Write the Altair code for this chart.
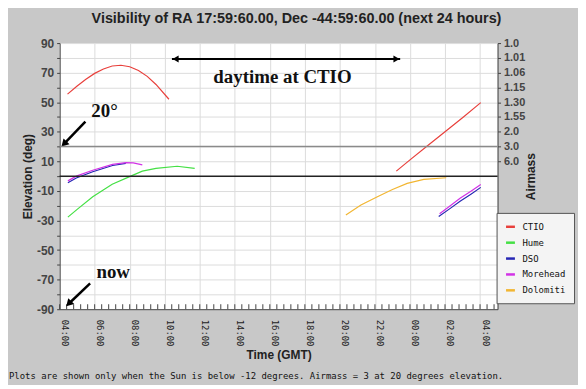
import altair as alt
import pandas as pd

# ---------------- text ----------------
title_text = "Visibility of RA 17:59:60.00, Dec -44:59:60.00 (next 24 hours)"
footer_note = ["Plots are shown only when the Sun is below -12 degrees. Airmass = 3 at 20 degrees elevation."]

# ---------------- categories ----------------
sites = ["CTIO", "Hume", "DSO", "Morehead", "Dolomiti"]
site_colors = ["#e8403c", "#44e044", "#2626b4", "#d232e6", "#f2b632"]

# ---------------- series (time in hours from 00:00 GMT, elevation in deg) ----------------
ctio_t1 = [4.45, 5.0, 5.5, 6.0, 6.5, 7.0, 7.5, 8.0, 8.5, 9.0, 9.5, 10.24]
ctio_e1 = [55.5, 61.0, 65.5, 69.5, 72.5, 74.5, 75.0, 74.0, 71.5, 67.5, 62.0, 52.0]
ctio_t2 = [23.22, 24.0, 25.0, 26.0, 27.0, 28.04]
ctio_e2 = [3.4, 11.0, 20.5, 30.0, 39.5, 49.7]

hume_t1 = [4.47, 5.0, 5.89, 7.0, 8.06, 8.72, 9.5, 10.71, 11.71]
hume_e1 = [-27.7, -22.5, -13.9, -5.5, 0.0, 3.4, 5.3, 6.7, 5.2]

dso_t1 = [4.47, 4.95, 5.89, 7.02, 7.78]
dso_e1 = [-4.4, -1.2, 3.0, 7.2, 8.6]
dso_t2 = [25.64, 26.3, 26.86, 27.5, 28.04]
dso_e2 = [-27.3, -21.8, -17.0, -12.0, -7.6]

morehead_t1 = [4.47, 4.95, 5.89, 7.02, 7.78, 8.2, 8.72]
morehead_e1 = [-3.2, 0.0, 4.0, 8.0, 9.2, 9.0, 7.6]
morehead_t2 = [25.69, 26.3, 26.86, 27.5, 28.04]
morehead_e2 = [-25.5, -20.0, -15.0, -10.0, -5.6]

dolomiti_t1 = [20.34, 21.2, 22.14, 23.0, 23.84, 24.79, 26.07]
dolomiti_e1 = [-26.2, -19.5, -13.9, -9.0, -4.9, -2.2, -1.1]

# ---------------- axes ----------------
time_ticks = list(range(4, 29, 2))
minor_ticks = [round(4 + 0.4 * i, 2) for i in range(63)]
elev_ticks = list(range(-90, 91, 10))
airmass_elev = [90, 80, 70, 60, 50, 40, 30, 20, 10]
airmass_labels = ["1.0", "1.01", "1.06", "1.15", "1.30", "1.55", "2.0", "3.0", "6.0"]

# ---------------- annotations ----------------
ann_text = ["daytime at CTIO", "20°", "now"]
ann_t = [16.72, 5.81, 6.10]
ann_e = [63.3, 40.3, -69.2]
ann_align = ["center", "left", "left"]

day_arrow = {"t": [10.41], "t2": [23.44], "e": [79.2]}
diag_arrows = {"t": [5.47, 5.74], "e": [36.9, -72.5], "t2": [4.25, 4.52], "e2": [21.8, -86.3]}
diag_heads = {"t": [4.25, 4.52], "e": [21.8, -86.3]}
day_head_left = {"t": [10.62], "e": [79.2]}
day_head_right = {"t": [23.23], "e": [79.2]}

# ---------------- build tables ----------------
segments = [
    ("CTIO", "c1", ctio_t1, ctio_e1), ("CTIO", "c2", ctio_t2, ctio_e2),
    ("Hume", "h1", hume_t1, hume_e1),
    ("DSO", "d1", dso_t1, dso_e1), ("DSO", "d2", dso_t2, dso_e2),
    ("Morehead", "m1", morehead_t1, morehead_e1), ("Morehead", "m2", morehead_t2, morehead_e2),
    ("Dolomiti", "o1", dolomiti_t1, dolomiti_e1),
]
rows = []
for site, seg, ts, es in segments:
    for t, e in zip(ts, es):
        rows.append({"site": site, "seg": seg, "t": t, "e": e})
df = pd.DataFrame(rows)

xscale = alt.Scale(domain=[4, 29], nice=False, zero=False)
yscale = alt.Scale(domain=[-90, 90], nice=False, zero=False)

SANS = "Liberation Sans"
MONO = "DejaVu Sans Mono"
SERIF = "Liberation Serif"

x_axis = alt.Axis(
    values=time_ticks, tickCount=100,
    labelExpr="(datum.value % 24 < 10 ? '0' : '') + (datum.value % 24) + ':00'",
    labelAngle=90, labelAlign="left", labelBaseline="middle", labelOffset=5,
    labelFont=MONO, labelFontSize=9, labelColor="#222", labelPadding=10,
    labelOverlap=False, labelFlush=False,
    ticks=False, grid=True, gridColor="#dcdcdc", domainColor="#444",
    title="Time (GMT)", titleFont=SANS, titleFontSize=12, titleFontWeight="bold",
    titleColor="#222", titlePadding=4,
)
y_axis_left = alt.Axis(
    values=elev_ticks, tickCount=100,
    labelExpr="abs(datum.value) % 20 == 10 ? datum.value : ''",
    labelFont=SANS, labelFontSize=12, labelFontWeight="bold", labelColor="#444",
    labelOverlap=False, labelFlush=False,
    tickSize=3, tickColor="#444", labelPadding=3,
    grid=True, gridColor="#dcdcdc", domainColor="#444",
    title="Elevation (deg)", titleFont=SANS, titleFontSize=12, titleFontWeight="bold",
    titleColor="#222", titlePadding=2,
)
am_expr = "".join(f"datum.value == {v} ? '{l}' : " for v, l in zip(airmass_elev, airmass_labels)) + "''"
y_axis_right = alt.Axis(
    orient="right", values=airmass_elev, tickCount=100, labelExpr=am_expr,
    labelFont=SANS, labelFontSize=11, labelFontWeight="bold", labelColor="#444",
    labelOverlap=False, labelFlush=False,
    tickSize=3, tickColor="#444", labelPadding=3, grid=False, domainColor="#444",
    title="Airmass", titleFont=SANS, titleFontSize=12, titleFontWeight="bold",
    titleColor="#222", titlePadding=13, titleAngle=270,
)

legend = alt.Legend(
    orient="none", legendX=440, legendY=171, title=None,
    padding=8, strokeColor="#555", fillColor="#f4f4f4",
    symbolType="stroke", symbolStrokeWidth=2.5, symbolSize=80,
    labelFont=MONO, labelFontSize=9, labelColor="#111", rowPadding=5, labelOffset=6,
)

lines = alt.Chart(df).mark_line(strokeWidth=1.2, clip=True).encode(
    x=alt.X("t:Q", scale=xscale, axis=x_axis),
    y=alt.Y("e:Q", scale=yscale, axis=y_axis_left),
    color=alt.Color("site:N", scale=alt.Scale(domain=sites, range=site_colors), legend=legend, sort=sites),
    detail="seg:N",
)

horizon = alt.Chart(pd.DataFrame({"e": [0]})).mark_rule(color="#222", strokeWidth=1.5).encode(
    y=alt.Y("e:Q", scale=yscale)
)

minor = alt.Chart(pd.DataFrame({"t": minor_ticks})).mark_rule(color="#444", strokeWidth=1).encode(
    x=alt.X("t:Q", scale=xscale), y=alt.value(263), y2=alt.value(268)
)

ann_df = pd.DataFrame({"txt": ann_text, "t": ann_t, "e": ann_e, "al": ann_align})
ann_center = alt.Chart(ann_df[ann_df.al == "center"]).mark_text(
    font=SERIF, fontSize=19, fontWeight="bold", align="center", baseline="alphabetic", color="#111"
).encode(x=alt.X("t:Q", scale=xscale), y=alt.Y("e:Q", scale=yscale), text="txt:N")
ann_left = alt.Chart(ann_df[ann_df.al == "left"]).mark_text(
    font=SERIF, fontSize=19, fontWeight="bold", align="left", baseline="alphabetic", color="#111"
).encode(x=alt.X("t:Q", scale=xscale), y=alt.Y("e:Q", scale=yscale), text="txt:N")

day_line = alt.Chart(pd.DataFrame(day_arrow)).mark_rule(color="#000", strokeWidth=2).encode(
    x=alt.X("t:Q", scale=xscale), x2="t2:Q", y=alt.Y("e:Q", scale=yscale)
)
diag_lines = alt.Chart(pd.DataFrame(diag_arrows)).mark_rule(color="#000", strokeWidth=2.5).encode(
    x=alt.X("t:Q", scale=xscale), x2="t2:Q", y=alt.Y("e:Q", scale=yscale), y2="e2:Q"
)
diag_tips = alt.Chart(pd.DataFrame(diag_heads)).mark_point(
    shape="triangle-up", angle=224, filled=True, size=70, color="#000", opacity=1
).encode(x=alt.X("t:Q", scale=xscale), y=alt.Y("e:Q", scale=yscale))
tip_l = alt.Chart(pd.DataFrame(day_head_left)).mark_point(
    shape="triangle-left", filled=True, size=50, color="#000", opacity=1
).encode(x=alt.X("t:Q", scale=xscale), y=alt.Y("e:Q", scale=yscale))
tip_r = alt.Chart(pd.DataFrame(day_head_right)).mark_point(
    shape="triangle-right", filled=True, size=50, color="#000", opacity=1
).encode(x=alt.X("t:Q", scale=xscale), y=alt.Y("e:Q", scale=yscale))

footer = alt.Chart(pd.DataFrame({"txt": footer_note})).mark_text(
    font=MONO, fontSize=9, align="left", baseline="middle", color="#111"
).encode(x=alt.value(-51), y=alt.value(335), text="txt:N")

main = alt.layer(lines, horizon, minor, day_line, diag_lines, diag_tips, tip_l, tip_r,
                 ann_center, ann_left, footer)

airmass_line = alt.Chart(pd.DataFrame({"e": [20]})).mark_rule(color="#8a8a8a", strokeWidth=1.5).encode(
    y=alt.Y("e:Q", scale=yscale, axis=y_axis_right)
)

chart = alt.layer(main, airmass_line).resolve_scale(y="independent").properties(
    width=441, height=268,
    autosize=alt.AutoSizeParams(type="none"),
    padding={"left": 52, "top": 34, "right": 81, "bottom": 75},
    background="#c8c8c8",
    title=alt.TitleParams(
        text=title_text, font=SANS, fontSize=14.5, fontWeight="bold", color="#222",
        anchor="middle", dx=18, offset=11,
    ),
).configure_view(stroke=None, fill="white")

chart.save("out.html", embed_options={"renderer": "svg", "actions": False})
